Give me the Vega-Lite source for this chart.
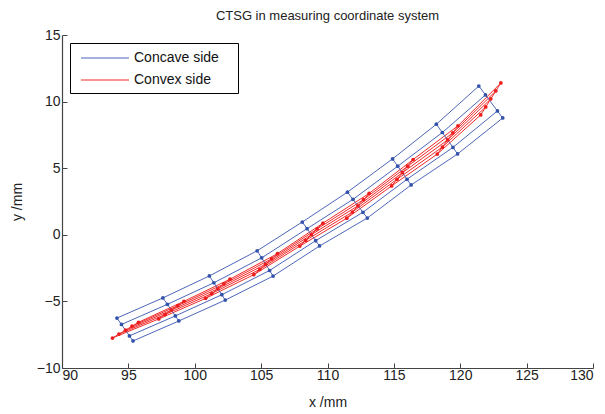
{
  "$schema": "https://vega.github.io/schema/vega-lite/v6.json",
  "autosize": "none",
  "padding": {"left": 62, "top": 35, "right": 12, "bottom": 46},
  "width": 531,
  "height": 333,
  "background": "white",
  "title": {"text": "CTSG in measuring coordinate system", "font": "Liberation Sans", "fontSize": 13, "fontWeight": "normal", "color": "#222222", "anchor": "middle", "offset": 5},
  "config": {
    "view": {"stroke": null},
    "axis": {"grid": false, "domainColor": "#444444", "tickColor": "#444444", "labelColor": "#222222", "titleColor": "#222222", "labelFont": "Liberation Sans", "titleFont": "Liberation Sans", "labelFontSize": 14, "titleFontSize": 14, "titleFontWeight": "normal", "tickSize": -5, "domainWidth": 1.2}
  },
  "datasets": {
    "pts": [
      {"s": "Concave side", "r": "b1", "k": 1, "x": 94.14, "y": -6.25},
      {"s": "Concave side", "r": "b1", "k": 2, "x": 97.6, "y": -4.74},
      {"s": "Concave side", "r": "b1", "k": 3, "x": 101.1, "y": -3.09},
      {"s": "Concave side", "r": "b1", "k": 4, "x": 104.7, "y": -1.2},
      {"s": "Concave side", "r": "b1", "k": 5, "x": 108.1, "y": 0.96},
      {"s": "Concave side", "r": "b1", "k": 6, "x": 111.5, "y": 3.2},
      {"s": "Concave side", "r": "b1", "k": 7, "x": 114.9, "y": 5.7},
      {"s": "Concave side", "r": "b1", "k": 8, "x": 118.2, "y": 8.3},
      {"s": "Concave side", "r": "b1", "k": 9, "x": 121.4, "y": 11.17},
      {"s": "Concave side", "r": "b2", "k": 1, "x": 94.48, "y": -6.73},
      {"s": "Concave side", "r": "b2", "k": 2, "x": 97.94, "y": -5.22},
      {"s": "Concave side", "r": "b2", "k": 3, "x": 101.44, "y": -3.6},
      {"s": "Concave side", "r": "b2", "k": 4, "x": 105.04, "y": -1.73},
      {"s": "Concave side", "r": "b2", "k": 5, "x": 108.46, "y": 0.46},
      {"s": "Concave side", "r": "b2", "k": 6, "x": 111.92, "y": 2.66},
      {"s": "Concave side", "r": "b2", "k": 7, "x": 115.29, "y": 5.15},
      {"s": "Concave side", "r": "b2", "k": 8, "x": 118.65, "y": 7.68},
      {"s": "Concave side", "r": "b2", "k": 9, "x": 121.9, "y": 10.5},
      {"s": "Concave side", "r": "b3", "k": 1, "x": 95.08, "y": -7.59},
      {"s": "Concave side", "r": "b3", "k": 2, "x": 98.54, "y": -6.09},
      {"s": "Concave side", "r": "b3", "k": 3, "x": 102.04, "y": -4.5},
      {"s": "Concave side", "r": "b3", "k": 4, "x": 105.64, "y": -2.68},
      {"s": "Concave side", "r": "b3", "k": 5, "x": 109.11, "y": -0.44},
      {"s": "Concave side", "r": "b3", "k": 6, "x": 112.67, "y": 1.69},
      {"s": "Concave side", "r": "b3", "k": 7, "x": 115.99, "y": 4.17},
      {"s": "Concave side", "r": "b3", "k": 8, "x": 119.45, "y": 6.56},
      {"s": "Concave side", "r": "b3", "k": 9, "x": 122.8, "y": 9.3},
      {"s": "Concave side", "r": "b4", "k": 1, "x": 95.35, "y": -7.97},
      {"s": "Concave side", "r": "b4", "k": 2, "x": 98.8, "y": -6.47},
      {"s": "Concave side", "r": "b4", "k": 3, "x": 102.3, "y": -4.9},
      {"s": "Concave side", "r": "b4", "k": 4, "x": 105.9, "y": -3.1},
      {"s": "Concave side", "r": "b4", "k": 5, "x": 109.4, "y": -0.84},
      {"s": "Concave side", "r": "b4", "k": 6, "x": 113.0, "y": 1.26},
      {"s": "Concave side", "r": "b4", "k": 7, "x": 116.3, "y": 3.74},
      {"s": "Concave side", "r": "b4", "k": 8, "x": 119.8, "y": 6.07},
      {"s": "Concave side", "r": "b4", "k": 9, "x": 123.2, "y": 8.77},
      {"s": "Convex side", "r": "r1", "k": 1, "x": 93.8, "y": -7.75},
      {"s": "Convex side", "r": "r1", "k": 2, "x": 97.29, "y": -6.315},
      {"s": "Convex side", "r": "r1", "k": 3, "x": 100.82, "y": -4.77},
      {"s": "Convex side", "r": "r1", "k": 4, "x": 104.45, "y": -2.995},
      {"s": "Convex side", "r": "r1", "k": 5, "x": 107.915, "y": -0.85},
      {"s": "Convex side", "r": "r1", "k": 6, "x": 111.455, "y": 1.245},
      {"s": "Convex side", "r": "r1", "k": 7, "x": 114.83, "y": 3.67},
      {"s": "Convex side", "r": "r1", "k": 8, "x": 118.27, "y": 6.06},
      {"s": "Convex side", "r": "r1", "k": 9, "x": 121.54, "y": 9.0},
      {"s": "Convex side", "r": "r2", "k": 1, "x": 94.29, "y": -7.455},
      {"s": "Convex side", "r": "r2", "k": 2, "x": 97.765, "y": -5.985},
      {"s": "Convex side", "r": "r2", "k": 3, "x": 101.28, "y": -4.41},
      {"s": "Convex side", "r": "r2", "k": 4, "x": 104.895, "y": -2.6},
      {"s": "Convex side", "r": "r2", "k": 5, "x": 108.35, "y": -0.42},
      {"s": "Convex side", "r": "r2", "k": 6, "x": 111.875, "y": 1.71},
      {"s": "Convex side", "r": "r2", "k": 7, "x": 115.235, "y": 4.165},
      {"s": "Convex side", "r": "r2", "k": 8, "x": 118.66, "y": 6.59},
      {"s": "Convex side", "r": "r2", "k": 9, "x": 121.92, "y": 9.6},
      {"s": "Convex side", "r": "r3", "k": 1, "x": 94.78, "y": -7.16},
      {"s": "Convex side", "r": "r3", "k": 2, "x": 98.24, "y": -5.655},
      {"s": "Convex side", "r": "r3", "k": 3, "x": 101.74, "y": -4.05},
      {"s": "Convex side", "r": "r3", "k": 4, "x": 105.34, "y": -2.205},
      {"s": "Convex side", "r": "r3", "k": 5, "x": 108.785, "y": 0.01},
      {"s": "Convex side", "r": "r3", "k": 6, "x": 112.295, "y": 2.175},
      {"s": "Convex side", "r": "r3", "k": 7, "x": 115.64, "y": 4.66},
      {"s": "Convex side", "r": "r3", "k": 8, "x": 119.05, "y": 7.12},
      {"s": "Convex side", "r": "r3", "k": 9, "x": 122.3, "y": 10.2},
      {"s": "Convex side", "r": "r4", "k": 1, "x": 95.27, "y": -6.865},
      {"s": "Convex side", "r": "r4", "k": 2, "x": 98.715, "y": -5.325},
      {"s": "Convex side", "r": "r4", "k": 3, "x": 102.2, "y": -3.69},
      {"s": "Convex side", "r": "r4", "k": 4, "x": 105.785, "y": -1.81},
      {"s": "Convex side", "r": "r4", "k": 5, "x": 109.22, "y": 0.44},
      {"s": "Convex side", "r": "r4", "k": 6, "x": 112.715, "y": 2.64},
      {"s": "Convex side", "r": "r4", "k": 7, "x": 116.045, "y": 5.155},
      {"s": "Convex side", "r": "r4", "k": 8, "x": 119.44, "y": 7.65},
      {"s": "Convex side", "r": "r4", "k": 9, "x": 122.68, "y": 10.8},
      {"s": "Convex side", "r": "r5", "k": 1, "x": 95.76, "y": -6.57},
      {"s": "Convex side", "r": "r5", "k": 2, "x": 99.19, "y": -4.995},
      {"s": "Convex side", "r": "r5", "k": 3, "x": 102.66, "y": -3.33},
      {"s": "Convex side", "r": "r5", "k": 4, "x": 106.23, "y": -1.415},
      {"s": "Convex side", "r": "r5", "k": 5, "x": 109.655, "y": 0.87},
      {"s": "Convex side", "r": "r5", "k": 6, "x": 113.135, "y": 3.105},
      {"s": "Convex side", "r": "r5", "k": 7, "x": 116.45, "y": 5.65},
      {"s": "Convex side", "r": "r5", "k": 8, "x": 119.83, "y": 8.18},
      {"s": "Convex side", "r": "r5", "k": 9, "x": 123.06, "y": 11.4}
    ]
  },
  "data": {"name": "pts"},
  "encoding": {
    "x": {"field": "x", "type": "quantitative", "scale": {"domain": [90, 130], "nice": false, "zero": false}, "axis": {"values": [90, 95, 100, 105, 110, 115, 120, 125, 130], "title": "x /mm", "labelPadding": 5, "titlePadding": 13}},
    "y": {"field": "y", "type": "quantitative", "scale": {"domain": [-10, 15], "nice": false, "zero": false}, "axis": {"values": [-10, -5, 0, 5, 10, 15], "title": "y /mm", "labelPadding": 7, "titlePadding": 12}}
  },
  "layer": [
    {
      "mark": {"type": "line", "strokeWidth": 1, "clip": true},
      "encoding": {
        "color": {"field": "s", "type": "nominal", "scale": {"domain": ["Concave side", "Convex side"], "range": ["#4d66b8", "#f02a2a"]},
          "legend": {"title": null, "orient": "top-left", "offset": 8, "strokeColor": "#000000", "fillColor": "#ffffff", "padding": 6, "labelFont": "Liberation Sans", "labelFontSize": 14, "labelColor": "#111111", "symbolType": "M-0.5,0L5.5,0M18,0L18.001,0", "symbolSize": 256, "symbolStrokeWidth": 1.2, "labelOffset": 40, "rowPadding": 6}},
        "detail": [{"field": "s"}, {"field": "r"}]
      }
    },
    {
      "mark": {"type": "line", "strokeWidth": 1, "clip": true},
      "encoding": {
        "color": {"field": "s", "type": "nominal"},
        "detail": [{"field": "s"}, {"field": "k"}]
      }
    },
    {
      "mark": {"type": "point", "filled": true, "size": 14, "opacity": 1},
      "encoding": {
        "fill": {"field": "s", "type": "nominal", "scale": {"domain": ["Concave side", "Convex side"], "range": ["#3352aa", "#ee1c1c"]}, "legend": null}
      }
    }
  ]
}
